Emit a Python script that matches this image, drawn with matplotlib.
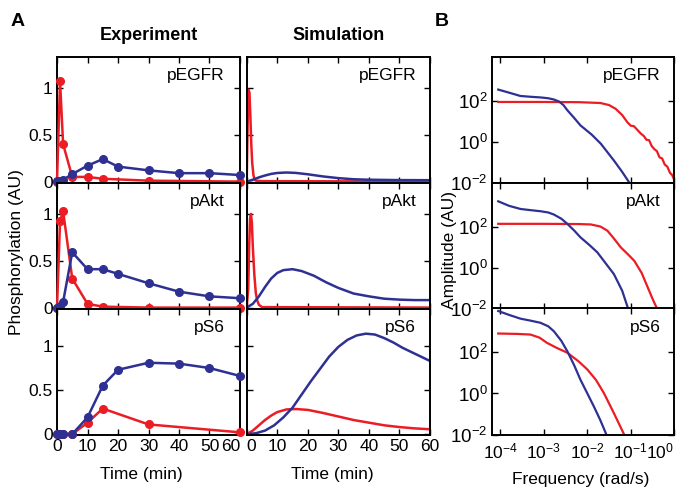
import numpy as np
import matplotlib
matplotlib.use('Agg')
import matplotlib.pyplot as plt
from matplotlib.ticker import NullLocator, FixedLocator

plt.rcParams['font.family'] = ['Liberation Sans', 'DejaVu Sans']
plt.rcParams['mathtext.fontset'] = 'custom'
plt.rcParams['mathtext.rm'] = 'Liberation Sans'
plt.rcParams['mathtext.it'] = 'Liberation Sans:italic'
plt.rcParams['font.size'] = 12.5

RED = '#ec1c24'
BLUE = '#2e3192'

proteins = ['pEGFR', 'pAkt', 'pS6']

# experiment (measured time courses)
t_blue = [0, 1, 2, 5, 10, 15, 20, 30, 40, 50, 60]
t_red = [0, 1, 2, 5, 10, 15, 30, 60]
exp_red = {
    'pEGFR': [0, 1.07, 0.40, 0.05, 0.05, 0.03, 0.01, 0.0],
    'pAkt': [0, 0.92, 1.03, 0.31, 0.04, 0.01, 0.0, 0.0],
    'pS6': [0, 0, 0, 0, 0.13, 0.29, 0.11, 0.02],
}
exp_blue = {
    'pEGFR': [0.01, 0.01, 0.02, 0.08, 0.17, 0.24, 0.16, 0.12, 0.09, 0.09, 0.07],
    'pAkt': [0, 0.02, 0.06, 0.59, 0.41, 0.41, 0.36, 0.26, 0.17, 0.12, 0.10],
    'pS6': [0, 0, 0, 0, 0.19, 0.55, 0.73, 0.81, 0.80, 0.75, 0.66],
}

# simulation (model curves)
sim_red_t = {
    'pEGFR': [0, 0.3, 0.6, 0.9, 1.2, 1.5, 1.8, 2.2, 2.6, 3, 5, 60],
    'pAkt': [0, 0.5, 0.8, 1.1, 1.4, 1.7, 2.0, 2.5, 3, 3.5, 4, 5, 60],
    'pS6': [0, 2, 4, 6, 8, 10, 13, 16, 20, 25, 30, 35, 40, 45, 50, 55, 60],
}
sim_red_y = {
    'pEGFR': [0, 0.6, 0.98, 0.95, 0.7, 0.4, 0.2, 0.07, 0.02, 0.01, 0.005, 0],
    'pAkt': [0, 0.2, 0.65, 0.95, 1.0, 0.9, 0.65, 0.35, 0.15, 0.07, 0.03, 0.005, 0],
    'pS6': [0, 0.04, 0.1, 0.16, 0.21, 0.25, 0.28, 0.285, 0.275, 0.24, 0.2, 0.16,
            0.13, 0.1, 0.08, 0.065, 0.055],
}
sim_blue_t = {
    'pEGFR': [0, 2, 4, 6, 8, 10, 13, 16, 20, 25, 30, 35, 40, 50, 60],
    'pAkt': [0, 2, 4, 6, 8, 10, 12, 15, 18, 22, 26, 30, 35, 40, 45, 50, 55, 60],
    'pS6': [0, 3, 6, 9, 12, 15, 18, 21, 24, 27, 30, 33, 36, 39, 42, 45, 48, 51,
            54, 57, 60],
}
sim_blue_y = {
    'pEGFR': [0, 0.02, 0.045, 0.065, 0.082, 0.092, 0.097, 0.093, 0.078, 0.055,
              0.037, 0.025, 0.02, 0.016, 0.015],
    'pAkt': [0, 0.04, 0.12, 0.22, 0.31, 0.37, 0.40, 0.41, 0.39, 0.34, 0.27, 0.21,
             0.15, 0.12, 0.095, 0.085, 0.08, 0.08],
    'pS6': [0, 0.01, 0.04, 0.1, 0.19, 0.3, 0.45, 0.6, 0.74, 0.88, 0.99, 1.07,
            1.12, 1.14, 1.13, 1.09, 1.04, 0.98, 0.93, 0.88, 0.83],
}

# frequency spectra, log10(frequency) and log10(amplitude)
spec_blue_lf = {
    'pEGFR': [-4.05, -3.8, -3.54, -3.3, -3.08, -2.9, -2.77, -2.65, -2.55, -2.46,
              -2.3, -2.16, -1.9, -1.69, -1.39, -1.2, -1.01],
    'pAkt': [-4.05, -3.8, -3.54, -3.3, -3.08, -2.9, -2.77, -2.6, -2.46, -2.3,
             -2.16, -1.95, -1.77, -1.6, -1.39, -1.2, -1.05],
    'pS6': [-4.05, -3.8, -3.54, -3.3, -3.08, -2.9, -2.77, -2.6, -2.46, -2.3,
            -2.16, -2.0, -1.85, -1.7, -1.55],
}
spec_blue_la = {
    'pEGFR': [2.53, 2.38, 2.22, 2.18, 2.15, 2.11, 2.05, 1.95, 1.78, 1.53, 1.15,
              0.80, 0.35, -0.09, -0.9, -1.45, -2.05],
    'pAkt': [3.22, 3.0, 2.85, 2.79, 2.74, 2.68, 2.58, 2.38, 2.13, 1.8, 1.48, 1.1,
             0.75, 0.28, -0.30, -1.1, -2.05],
    'pS6': [3.99, 3.8, 3.62, 3.52, 3.42, 3.25, 3.01, 2.55, 2.04, 1.35, 0.67, 0.0,
            -0.63, -1.3, -2.05],
}
spec_red_lf = {
    'pEGFR': [-4.05, -3.0, -2.2, -1.7, -1.5, -1.35, -1.2, -1.08, -1.0, -0.93,
              -0.85, -0.77, -0.70, -0.64, -0.58, -0.52, -0.46, -0.40, -0.34,
              -0.28, -0.22, -0.16, -0.10, -0.05, 0.0],
    'pAkt': [-4.05, -3.0, -2.2, -1.92, -1.7, -1.54, -1.4, -1.23, -1.05, -0.92,
             -0.75, -0.61, -0.5, -0.38],
    'pS6': [-4.05, -3.6, -3.31, -3.1, -2.93, -2.7, -2.46, -2.2, -2.0, -1.8,
            -1.62, -1.39, -1.14],
}
spec_red_la = {
    'pEGFR': [1.93, 1.93, 1.92, 1.88, 1.78, 1.6, 1.3, 0.95, 0.78, 0.76, 0.58,
              0.40, 0.28, 0.10, 0.08, -0.2, -0.35, -0.45, -0.75, -0.8, -1.1,
              -1.2, -1.5, -1.6, -1.85],
    'pAkt': [2.13, 2.13, 2.12, 2.1, 2.0, 1.80, 1.45, 0.99, 0.62, 0.34, -0.25,
             -0.95, -1.5, -2.05],
    'pS6': [2.90, 2.88, 2.85, 2.7, 2.45, 2.2, 1.97, 1.55, 1.16, 0.65, 0.02,
            -0.95, -2.05],
}

time_ticks = [0, 10, 20, 30, 40, 50, 60]
time_labels = ['0', '10', '20', '30', '40', '50', '60']
freq_ticks = [1e-4, 1e-3, 1e-2, 1e-1, 1]
freq_labels = [r'$10^{-4}$', r'$10^{-3}$', r'$10^{-2}$', r'$10^{-1}$', r'$10^{0}$']

ylims_a = [(-0.015, 1.33), (-0.015, 1.33), (-0.01, 1.42)]

W, H = 685.0, 487.0
fig = plt.figure(figsize=(W / 100, H / 100), dpi=100)


def px_axes(x0, x1, y0, y1):
    return fig.add_axes([x0 / W, 1 - y1 / H, (x1 - x0) / W, (y1 - y0) / H])


def style(ax, size=12):
    for s in ax.spines.values():
        s.set_linewidth(1.4)
    ax.tick_params(direction='in', top=True, right=True, length=4, width=1,
                   pad=3, labelsize=size)


row_top_a = [57, 183, 309]
row_top_b = [56.7, 182.7, 308.3]
for i, p in enumerate(proteins):
    y0 = row_top_a[i]
    # experiment
    ax = px_axes(57, 240, y0, y0 + 126)
    ax.plot(t_red, exp_red[p], '-o', color=RED, lw=1.8, ms=5.5, clip_on=False, zorder=3)
    ax.plot(t_blue, exp_blue[p], '-o', color=BLUE, lw=1.8, ms=5.5, clip_on=False, zorder=4)
    ax.set_xlim(0, 60)
    ax.set_ylim(*ylims_a[i])
    ax.set_xticks(time_ticks)
    ax.set_yticks([0, 0.5, 1])
    ax.set_yticklabels(['0', '0.5', '1'])
    style(ax, 12.5)
    if i < 2:
        ax.set_xticklabels([])
    else:
        labs = ax.set_xticklabels(time_labels)
        labs[-1].set_horizontalalignment('right')
        labs[-1].set_x(61.5)
    ax.text(0.915, 0.85, p, transform=ax.transAxes, ha='right', va='center', fontsize=12.5)

    # simulation
    ax = px_axes(246.7, 430, y0, y0 + 126)
    ax.plot(sim_red_t[p], sim_red_y[p], '-', color=RED, lw=1.8)
    ax.plot(sim_blue_t[p], sim_blue_y[p], '-', color=BLUE, lw=1.8)
    ax.set_xlim(0, 60)
    ax.set_ylim(*ylims_a[i])
    ax.set_xticks(time_ticks)
    ax.set_yticks([0, 0.5, 1])
    ax.set_yticklabels([])
    style(ax, 12.5)
    if i < 2:
        ax.set_xticklabels([])
    else:
        labs = ax.set_xticklabels(time_labels)
        labs[0].set_horizontalalignment('left')
    ax.text(0.925, 0.85, p, transform=ax.transAxes, ha='right', va='center', fontsize=12.5)

    # spectra
    yb = row_top_b[i]
    ax = px_axes(491.7, 674.3, yb, yb + 126.5)
    ax.plot(np.power(10.0, spec_red_lf[p]), np.power(10.0, spec_red_la[p]), '-', color=RED, lw=1.6)
    ax.plot(np.power(10.0, spec_blue_lf[p]), np.power(10.0, spec_blue_la[p]), '-', color=BLUE, lw=1.6)
    ax.set_xscale('log')
    ax.set_yscale('log')
    ax.set_xlim(10 ** -4.2, 1)
    ax.set_ylim(1e-2, 10 ** 4.12)
    ax.xaxis.set_major_locator(FixedLocator(freq_ticks))
    ax.yaxis.set_major_locator(FixedLocator([1e-2, 1, 1e2]))
    ax.xaxis.set_minor_locator(NullLocator())
    ax.yaxis.set_minor_locator(NullLocator())
    style(ax, 13.5)
    ax.tick_params(axis='x', pad=5, labelsize=12.5)
    if i < 2:
        ax.set_xticklabels([])
    else:
        labs = ax.set_xticklabels(freq_labels)
        labs[-1].set_horizontalalignment('right')
        labs[-1].set_x(10 ** 0.05)
    ax.text(0.925, 0.85, p, transform=ax.transAxes, ha='right', va='center', fontsize=12.5)

fig.text(18 / W, 1 - 21 / H, 'A', fontsize=14, fontweight='bold', ha='center', va='center')
fig.text(442 / W, 1 - 21 / H, 'B', fontsize=14, fontweight='bold', ha='center', va='center')
fig.text(149 / W, 1 - 35 / H, 'Experiment', fontsize=13, fontweight='bold', ha='center', va='center')
fig.text(339 / W, 1 - 35 / H, 'Simulation', fontsize=13, fontweight='bold', ha='center', va='center')
fig.text(17 / W, 1 - 252 / H, 'Phosphorylation (AU)', rotation=90, ha='center', va='center', fontsize=12.5)
fig.text(449 / W, 1 - 250 / H, 'Amplitude (AU)', rotation=90, ha='center', va='center', fontsize=12.5)
fig.text(141 / W, 1 - 475 / H, 'Time (min)', ha='center', va='center', fontsize=12.5)
fig.text(332 / W, 1 - 475 / H, 'Time (min)', ha='center', va='center', fontsize=12.5)
fig.text(581 / W, 1 - 472 / H, 'Frequency (rad/s)', ha='center', va='top', fontsize=12.5)

fig.savefig('out.png', dpi=100)
